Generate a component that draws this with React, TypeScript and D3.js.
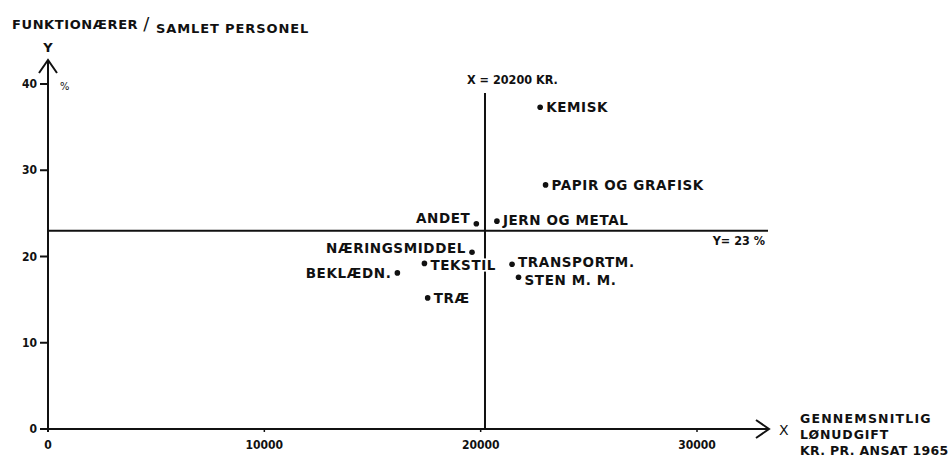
import React from "react";
import * as d3 from "d3";

const industries = ["KEMISK", "PAPIR OG GRAFISK", "ANDET", "JERN OG METAL", "NÆRINGSMIDDEL", "TEKSTIL", "BEKLÆDN.", "TRÆ", "TRANSPORTM.", "STEN M. M."];
const wageCost = [22750, 23000, 19800, 20750, 19600, 17400, 16150, 17550, 21450, 21750];
const salariedShare = [37.3, 28.3, 23.8, 24.1, 20.5, 19.2, 18.1, 15.2, 19.1, 17.6];
const xTicks = [0, 10000, 20000, 30000];
const yTicks = [0, 10, 20, 30, 40];
const meanX = 20200;
const meanY = 23;

// label placement (style only): side and vertical offset
const placement: Record<string, { side: "left" | "right"; dy: number }> = {
  "KEMISK": { side: "right", dy: 5 },
  "PAPIR OG GRAFISK": { side: "right", dy: 5 },
  "ANDET": { side: "left", dy: -1 },
  "JERN OG METAL": { side: "right", dy: 4 },
  "NÆRINGSMIDDEL": { side: "left", dy: 1 },
  "TEKSTIL": { side: "right", dy: 7 },
  "BEKLÆDN.": { side: "left", dy: 5 },
  "TRÆ": { side: "right", dy: 5 },
  "TRANSPORTM.": { side: "right", dy: 3 },
  "STEN M. M.": { side: "right", dy: 8 },
};

const W = 951, H = 457;
const FONT = "'DejaVu Sans', sans-serif";
const NARROW = "'DejaVu Sans Condensed', 'DejaVu Sans', sans-serif";

export default function App() {
  const x = d3.scaleLinear().domain([0, 30000]).range([48, 697]);
  const y = d3.scaleLinear().domain([0, 40]).range([429, 84]);
  const ink = "#111";
  const axisEndX = 769;
  const axisTopY = 60;

  return (
    <svg width={W} height={H} style={{ position: "absolute", left: 0, top: 0, background: "#fff" }} fontFamily={FONT}>
      <rect width={W} height={H} fill="#fff" />
      {/* title */}
      <text x={12} y={29} fontSize={13} fontWeight="bold" fill={ink} letterSpacing={0.6}>
        FUNKTIONÆRER<tspan fontSize={18} fontWeight="normal" dx={5} dy={1}>/</tspan>
        <tspan dx={6} dy={3} letterSpacing={0.9}>SAMLET PERSONEL</tspan>
      </text>
      <text x={x(0)} y={52} fontSize={13} fontWeight="bold" textAnchor="middle" fill={ink}>Y</text>
      <text x={x(0) + 12} y={90} fontSize={11} fill={ink} fontFamily={NARROW}>%</text>

      {/* axes */}
      <line x1={x(0)} y1={y(0) + 3} x2={x(0)} y2={axisTopY} stroke={ink} strokeWidth={2} />
      <polyline points={`${x(0) - 9},${axisTopY + 13} ${x(0)},${axisTopY} ${x(0) + 9},${axisTopY + 13}`} fill="none" stroke={ink} strokeWidth={2} />
      <line x1={x(0) - 8} y1={y(0)} x2={axisEndX} y2={y(0)} stroke={ink} strokeWidth={2} />
      <polyline points={`${axisEndX - 13},${y(0) - 9} ${axisEndX},${y(0)} ${axisEndX - 13},${y(0) + 9}`} fill="none" stroke={ink} strokeWidth={2} />
      <text x={779} y={y(0) + 6} fontSize={14} fill={ink}>X</text>

      {yTicks.map((t) => (
        <g key={"y" + t}>
          <line x1={x(0) - 8} x2={x(0)} y1={y(t)} y2={y(t)} stroke={ink} strokeWidth={2} />
          <text x={x(0) - 11} y={y(t) + 4} fontSize={12} fontWeight="bold" textAnchor="end" fill={ink} fontFamily={NARROW}>{t}</text>
        </g>
      ))}
      {xTicks.map((t) => (
        <g key={"x" + t}>
          <line x1={x(t)} x2={x(t)} y1={y(0)} y2={y(0) + 3} stroke={ink} strokeWidth={1.5} />
          <text x={x(t)} y={y(0) + 20} fontSize={12} fontWeight="bold" textAnchor="middle" fill={ink} fontFamily={NARROW}>{t}</text>
        </g>
      ))}

      {/* x axis title */}
      <g fontSize={12.5} fontWeight="bold" fill={ink}>
        <text x={800} y={423} letterSpacing={1.2}>GENNEMSNITLIG</text>
        <text x={800} y={439} letterSpacing={0.9}>LØNUDGIFT</text>
        <text x={800} y={455} letterSpacing={0.35}>KR. PR. ANSAT 1965</text>
      </g>

      {/* mean lines */}
      <line x1={x(0)} x2={768} y1={y(meanY)} y2={y(meanY)} stroke={ink} strokeWidth={2} />
      <line x1={x(meanX)} x2={x(meanX)} y1={93} y2={y(0)} stroke={ink} strokeWidth={2} />
      <text x={x(meanX) - 18} y={84} fontSize={12.5} fontWeight="bold" fill={ink} fontFamily={NARROW}>X = 20200 KR.</text>
      <text x={765} y={y(meanY) + 14} fontSize={12.5} fontWeight="bold" textAnchor="end" fill={ink} fontFamily={NARROW}>Y=  23 %</text>

      {/* points */}
      {industries.map((name, i) => {
        const cx = x(wageCost[i]);
        const cy = y(salariedShare[i]);
        const p = placement[name];
        return (
          <g key={name}>
            <circle cx={cx} cy={cy} r={2.8} fill={ink} />
            <text
              x={p.side === "right" ? cx + 6 : cx - 6}
              y={cy + p.dy}
              textAnchor={p.side === "right" ? "start" : "end"}
              fontSize={13.5}
              fontWeight="bold"
              letterSpacing={0.6}
              fill={ink}
              stroke="#fff"
              strokeWidth={3}
              paintOrder="stroke"
            >
              {name}
            </text>
          </g>
        );
      })}
    </svg>
  );
}
